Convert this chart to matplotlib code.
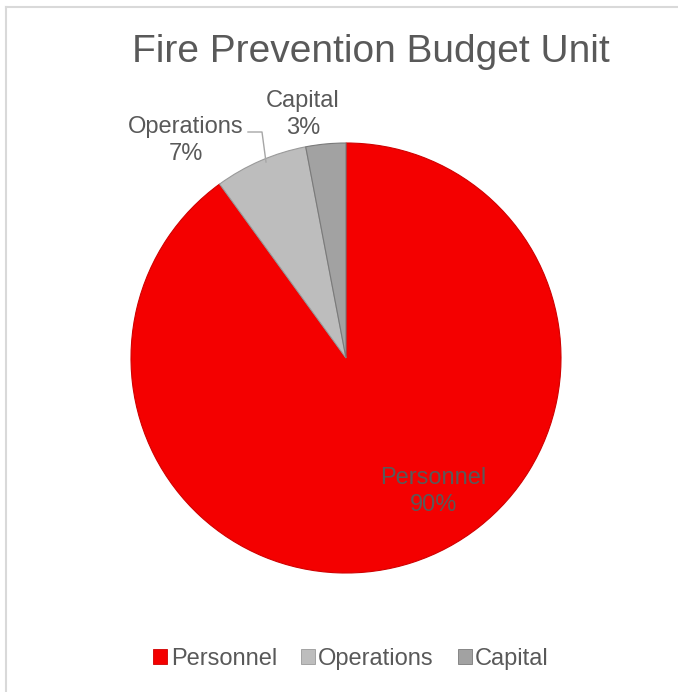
import matplotlib
matplotlib.use("Agg")
import matplotlib.pyplot as plt
from matplotlib.lines import Line2D
from matplotlib.patches import Patch

W, H = 678, 692

categories = ["Personnel", "Operations", "Capital"]
shares = [90, 7, 3]
colors = ["#F40000", "#BDBDBD", "#A2A2A2"]
edge_colors = ["#D00000", "#9A9A9A", "#7A7A7A"]

TEXT = "#595959"
plt.rcParams["font.family"] = ["Liberation Sans", "DejaVu Sans"]

fig = plt.figure(figsize=(W / 100, H / 100), dpi=100)


def fx(px):
    return px / W


def fy(py):
    return 1 - py / H


# chart-area border (only top and left visible)
fig.add_artist(Line2D([fx(6), fx(W)], [fy(7), fy(7)], color="#D9D9D9", lw=1.5))
fig.add_artist(Line2D([fx(6), fx(6)], [fy(7), fy(H)], color="#D9D9D9", lw=1.5))

fig.text(fx(371), fy(52), "Fire Prevention Budget Unit", ha="center", va="center",
         fontsize=28, color=TEXT)

# pie occupies a 430px square centred at (346, 358)
cx, cy, r = 346, 358, 215
ax = fig.add_axes([fx(cx - r), fy(cy + r), 2 * r / W, 2 * r / H])
wedges, _ = ax.pie(shares, colors=colors, startangle=90, counterclock=False,
                   radius=1.0, wedgeprops=dict(linewidth=0.8))
for w, ec in zip(wedges, edge_colors):
    w.set_edgecolor(ec)
ax.set_xlim(-1, 1)
ax.set_ylim(-1, 1)
ax.set_aspect("auto")
ax.axis("off")

labels = [f"{c}\n{v}%" for c, v in zip(categories, shares)]
label_pos = [(0.405, -0.621), (-0.744, 1.012), (-0.2, 1.133)]
for text, (lx, ly) in zip(labels, label_pos):
    ax.text(lx, ly, text, ha="center", va="center", fontsize=17, color=TEXT,
            linespacing=1.25, clip_on=False)

# leader line for the Operations label
ax.plot([(248 - cx) / r, (262 - cx) / r, (266 - cx) / r],
        [(cy - 132) / r, (cy - 132) / r, (cy - 162) / r],
        color="#A6A6A6", lw=1, clip_on=False)

handles = [Patch(facecolor=c, edgecolor=e, linewidth=0.6) for c, e in zip(colors, edge_colors)]
fig.legend(handles, categories, loc="center", bbox_to_anchor=(fx(351), fy(659)), ncol=3,
           frameon=False, fontsize=17, handlelength=0.6, handleheight=0.6,
           handletextpad=0.15, columnspacing=1.0, labelcolor=TEXT)

fig.savefig("out.png", dpi=100)
